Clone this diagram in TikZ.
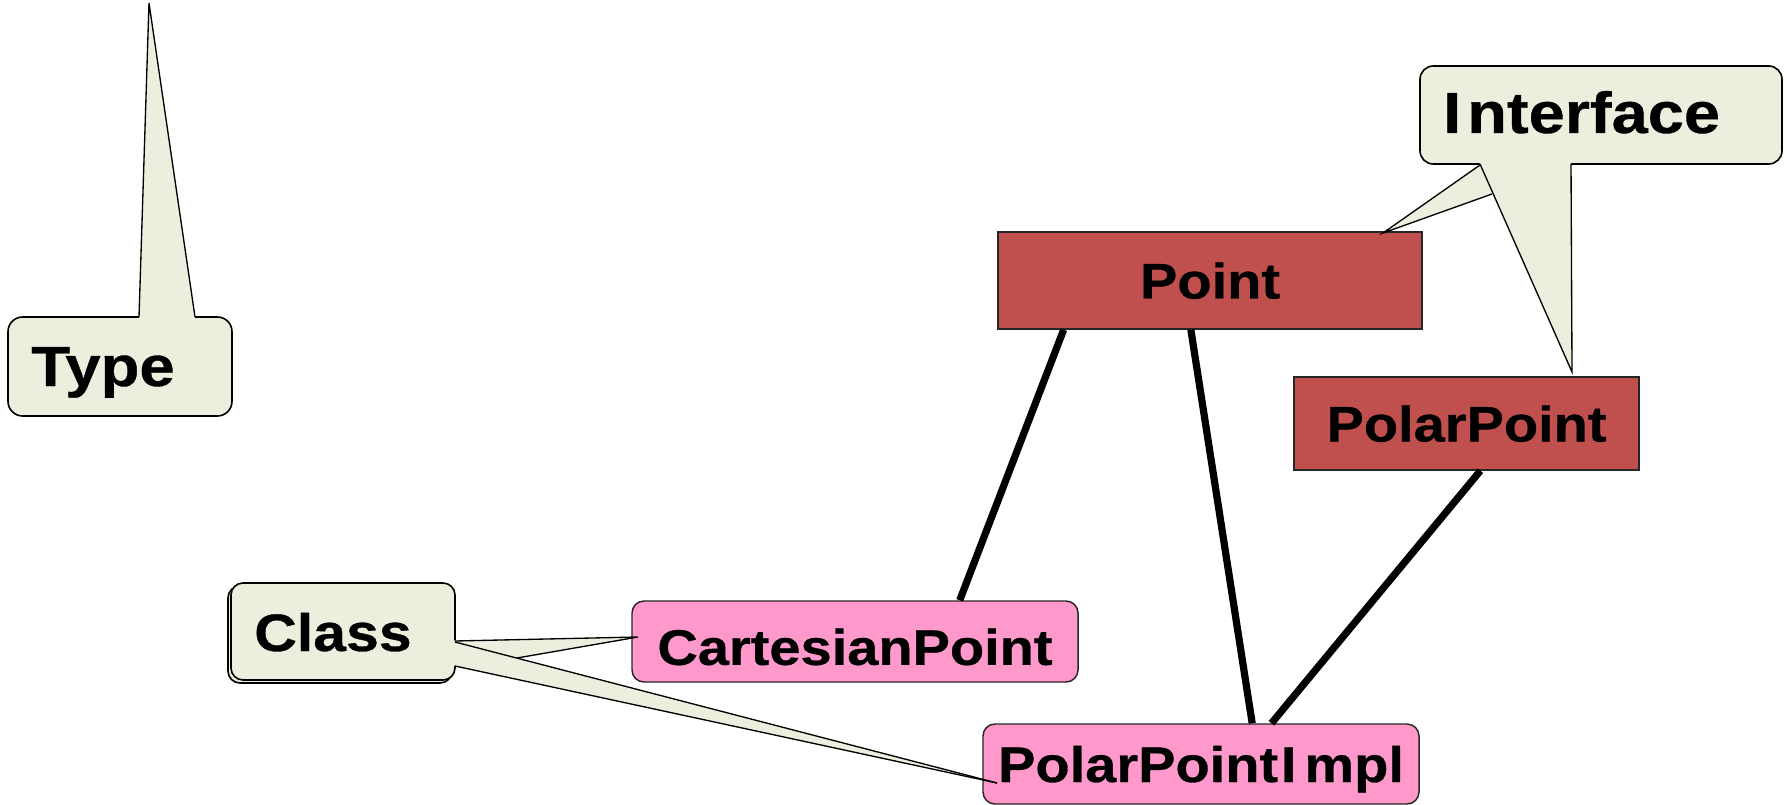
\documentclass[tikz,border=0pt]{standalone}
\usepackage{fontspec}
\setmainfont{Liberation Sans}[FakeStretch=1.12,FakeBold=0.6]
\usetikzlibrary{calc}
\definecolor{notefill}{RGB}{235,240,222}
\definecolor{ifacered}{RGB}{192,80,77}
\definecolor{classpink}{RGB}{255,153,204}

\begin{document}
\begin{tikzpicture}[x=0.75pt,y=-0.75pt,
  iface/.style={draw=black!85, line width=1.1pt, fill=ifacered, inner sep=0pt,
    text height=27pt, text depth=0pt, font=\fontsize{37.5}{40}\selectfont\bfseries},
  impl/.style={iface, fill=classpink, rounded corners=9pt},
  notebox/.style={draw=black, line width=1.2pt, fill=notefill, rounded corners=10pt, inner sep=0pt},
  notetext/.style={anchor=base west, inner sep=0pt, font=\fontsize{#1}{#1}\selectfont\bfseries},
  tail/.style={draw=black, line width=1pt, line join=miter},
  link/.style={line width=5.4pt}
]
\useasboundingbox (0,0) rectangle (1790,805);
\clip (0,0) rectangle (1790,805);

% interfaces and classes
\node[iface, minimum width=318pt, minimum height=72.75pt] (point) at (1210,280.5) {Point};
\node[iface, minimum width=258.75pt, minimum height=69.75pt] (polar) at (1466.5,423.5) {PolarPoint};
\node[impl, minimum width=334.5pt, minimum height=60.75pt] (cart) at (855,641.5) {\raisebox{-4pt}{CartesianPoint}};
\node[impl, minimum width=327pt, minimum height=60pt] (ppimpl) at (1201,764) {PolarPoint\kern2pt I\kern6pt mpl};

% inheritance links
\draw[link] ($(point.south west)!0.156!(point.south east)$) -- ($(cart.north west)!0.734!(cart.north east)$);
\draw[link] ($(point.south west)!0.455!(point.south east)$) -- ($(ppimpl.north west)!0.617!(ppimpl.north east)$);
\draw[link] ($(polar.south west)!0.540!(polar.south east)$) -- ($(ppimpl.north west)!0.661!(ppimpl.north east)$);

% "Type" callout
\node[notebox, rounded corners=11pt, minimum width=168pt, minimum height=74.25pt] (typebox) at (120,366.5) {};
\fill[notefill] (138.9,321) -- (149,3) -- (195.5,321) -- cycle;
\draw[tail] (139,317) -- (149,3) -- (195,317);
\node[notetext=42.5] (typetext) at (31,386) {Type};

% "Interface" callout
\node[notebox, minimum width=271.5pt, minimum height=73.5pt] (ifacebox) at (1601,115) {};
\fill[notefill] (1478.3,160) -- (1572,372) -- (1571,160) -- cycle;
\fill[notefill] (1480,164) -- (1383,233) -- (1492,194) -- cycle;
\draw[tail] (1480,164) -- (1572,372) -- (1571,164);
\draw[tail] (1480,165) -- (1383,233) -- (1492,194);
\node[notetext=43.5] (ifacetext) at (1443,133) {I\kern4.5pt nterface};

% "Class" callout
\node[notebox, rounded corners=9pt, minimum width=168pt, minimum height=72.75pt] (classshadow) at (340,634.5) {};
\node[notebox, rounded corners=9pt, minimum width=168pt, minimum height=72.75pt] (classbox) at (343,631.5) {};
\fill[notefill] (451,640.5) -- (638,637) -- (517,658) -- (451,645) -- cycle;
\fill[notefill] (451,641) -- (997,783) -- (451,665) -- cycle;
\draw[tail] (455,641) -- (638,637) -- (517,658);
\draw[tail] (455,642) -- (997,783);
\draw[tail] (455,666) -- (997,783);
\node[notetext=39.5] (classtext) at (254,651) {Class};
\end{tikzpicture}
\end{document}
